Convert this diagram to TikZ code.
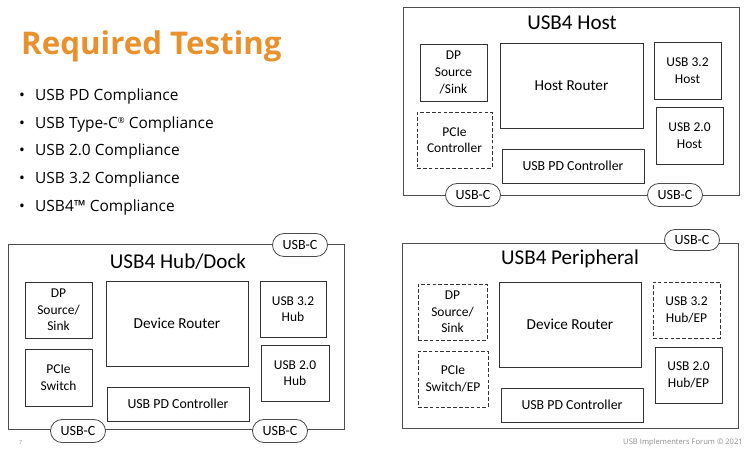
\documentclass[tikz,border=0pt]{standalone}
\usepackage{fontspec}
\setmainfont{Carlito}
\newfontfamily\headfont{Open Sans}
\usetikzlibrary{shapes.misc, positioning}
\definecolor{titleorange}{HTML}{E8912D}
\definecolor{footgray}{HTML}{8C8C8C}
\tikzset{
	sz/.style 2 args={minimum width=#1*0.03cm, minimum height=#2*0.03cm},
	devbox/.style={rectangle, draw=black!70, line width=0.7pt, inner sep=0pt},
	devtitle/.style={font=\fontsize{18}{20}\selectfont, inner sep=0pt},
	part/.style={rectangle, draw=black!80, line width=0.7pt, align=center, inner sep=0pt,
		font=\fontsize{11.5}{14.2}\selectfont},
	optpart/.style={part, dash pattern=on 3.2pt off 1.8pt},
	router/.style={part, font=\fontsize{13}{15}\selectfont},
	pdctrl/.style={part, font=\fontsize{11.8}{13}\selectfont},
	port/.style={rounded rectangle, draw=black!70, fill=white, line width=0.7pt, inner sep=0pt,
		minimum width=55*0.03cm, minimum height=23*0.03cm, font=\fontsize{12}{13}\selectfont},
	bullet/.style={anchor=base west, inner sep=0pt, font=\headfont\fontsize{13.2}{15}\selectfont},
	foot/.style={inner sep=0pt, text=footgray},
}

\begin{document}
\begin{tikzpicture}[x=0.03cm, y=-0.03cm]
	\useasboundingbox (0,0) rectangle (750,454);
	% Heading and list
	\node[anchor=base west, inner sep=0pt, text=titleorange,
		font=\headfont\bfseries\fontsize{26.7}{30}\selectfont] (heading) at (21,55) {Required Testing};
	\foreach \txt [count=\i] in {USB PD Compliance, USB Type-C\raisebox{0.55ex}{\fontsize{7}{8}\selectfont ®} Compliance,
		USB 2.0 Compliance, USB 3.2 Compliance, USB4™ Compliance}{
		\node[bullet] (bul\i) at (19,{101+27.5*(\i-1)}) {\textbullet};
		\node[bullet] (item\i) at (35,{101+27.5*(\i-1)}) {\txt};
	}
	% USB4 Host
	\node[devbox, sz={336}{188}] (host) at (571,101) {};
	\node[devtitle] (hosttitle) at (572,23) {USB4 Host};
	\node[part, sz={67}{57}] (h_dp) at (453.5,72.5) {DP\\Source\\/Sink};
	\node[optpart, sz={75}{56}] (h_pcie) at (454.5,140) {PCIe\\Controller};
	\node[router, sz={143}{85}] (h_router) at (571.5,85.5) {Host Router};
	\node[pdctrl, sz={142}{34}] (h_pd) at (573,166) {USB PD Controller};
	\node[part, sz={67}{57}] (h_u32) at (687.5,70.5) {USB 3.2\\Host};
	\node[part, sz={67}{57}] (h_u20) at (689.5,135.5) {USB 2.0\\Host};
	\node[port] (h_c1) at (473,195) {USB-C};
	\node[port] (h_c2) at (675,195) {USB-C};
	% USB4 Hub/Dock
	\node[devbox, sz={336}{185}] (hub) at (176,336.5) {};
	\node[devtitle] (hubtitle) at (178,262) {USB4 Hub/Dock};
	\node[part, sz={67}{56}] (d_dp) at (58.5,310) {DP\\Source/\\Sink};
	\node[part, sz={67}{57}] (d_pcie) at (58.5,377.5) {PCIe\\Switch};
	\node[router, sz={142}{85}] (d_router) at (177,323.5) {Device Router};
	\node[pdctrl, sz={142}{34}] (d_pd) at (178,404) {USB PD Controller};
	\node[part, sz={66}{56}] (d_u32) at (293,309) {USB 3.2\\Hub};
	\node[part, sz={68}{56}] (d_u20) at (295,373) {USB 2.0\\Hub};
	\node[port] (d_c1) at (300,245) {USB-C};
	\node[port] (d_c2) at (78,431) {USB-C};
	\node[port] (d_c3) at (280,431) {USB-C};
	% USB4 Peripheral
	\node[devbox, sz={336}{185}] (periph) at (570,335.5) {};
	\node[devtitle] (periphtitle) at (570,259) {USB4 Peripheral};
	\node[optpart, sz={69}{56}] (p_dp) at (452.5,312) {DP\\Source/\\Sink};
	\node[optpart, sz={70}{56}] (p_pcie) at (453,379) {PCIe\\Switch/EP};
	\node[router, sz={142}{85}] (p_router) at (570,324.5) {Device Router};
	\node[pdctrl, sz={142}{34}] (p_pd) at (572,405) {USB PD Controller};
	\node[optpart, sz={67}{56}] (p_u32) at (686.5,310) {USB 3.2\\Hub/EP};
	\node[part, sz={67}{56}] (p_u20) at (688.5,375) {USB 2.0\\Hub/EP};
	\node[port, minimum height=21*0.03cm] (p_c1) at (692,240) {USB-C};
	% Footer
	\node[foot, anchor=base west, font=\fontsize{5}{6}\selectfont] (pagenum) at (19,444) {7};
	\node[foot, anchor=base east, font=\headfont\fontsize{6.5}{8}\selectfont] (credit) at (743,444) {USB Implementers Forum © 2021};
\end{tikzpicture}
\end{document}
